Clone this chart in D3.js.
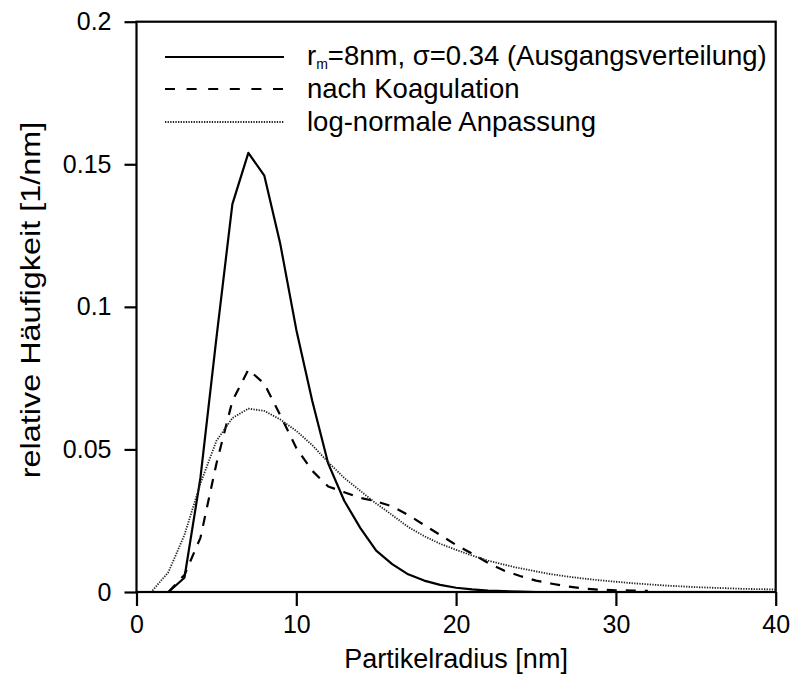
<!DOCTYPE html>
<html>
<head>
<meta charset="utf-8">
<script src="https://cdn.jsdelivr.net/npm/d3@7"></script>
<style>
  html, body { margin: 0; padding: 0; background: #fff; }
  svg { display: block; font-family: "Liberation Sans", Arial, sans-serif; }
</style>
</head>
<body>
<svg id="chart" width="793" height="676"></svg>
<script>
// Particle radius grid [nm]
const radius = d3.range(1, 41);

// Initial size distribution (r_m = 8 nm, sigma = 0.34)
const initial = [
  0, 0, 0.005, 0.040, 0.089, 0.136, 0.154, 0.146, 0.122, 0.092,
  0.067, 0.045, 0.032, 0.0225, 0.0145, 0.0098, 0.0062, 0.0040, 0.0025, 0.0015,
  0.0009, 0.0005, 0.0003, 0.0001, 0, 0, 0, 0, 0, 0,
  0, 0, 0, 0, 0, 0, 0, 0, 0, 0
];

// Distribution after coagulation
const coagulated = [
  null, 0, 0.006, 0.019, 0.045, 0.067, 0.078, 0.073, 0.062, 0.0505,
  0.0425, 0.037, 0.035, 0.033, 0.0318, 0.030, 0.027, 0.0235, 0.020, 0.0165,
  0.0135, 0.0102, 0.0075, 0.0056, 0.0040, 0.0029, 0.0019, 0.0012, 0.0008, 0.0006,
  0.0005, 0.0004, null, null, null, null, null, null, null, null
];

// Log-normal fit of the coagulated distribution
const lognormalFit = [
  0.0005, 0.007, 0.020, 0.038, 0.053, 0.061, 0.0643, 0.0635, 0.0605, 0.0565,
  0.0515, 0.0455, 0.040, 0.0355, 0.031, 0.027, 0.0228, 0.0196, 0.0169, 0.0148,
  0.0128, 0.0110, 0.0096, 0.0083, 0.0072, 0.0062, 0.0054, 0.0047, 0.0041, 0.0036,
  0.0031, 0.0027, 0.0023, 0.0020, 0.0017, 0.0015, 0.0013, 0.0011, 0.0010, 0.0009
];

const xTicks = [0, 10, 20, 30, 40];
const yTicks = [0, 0.05, 0.1, 0.15, 0.2];
const yTickLabels = ["0", "0.05", "0.1", "0.15", "0.2"];

const seriesNames = [
  "r_m=8nm, σ=0.34 (Ausgangsverteilung)",
  "nach Koagulation",
  "log-normale Anpassung"
];

const svg = d3.select("#chart");
const m = { left: 136.5, right: 775.7, top: 21.7, bottom: 592 };

const x = d3.scaleLinear().domain([0, 40]).range([m.left, m.right]);
const y = d3.scaleLinear().domain([0, 0.2]).range([m.bottom, m.top]);

const styles = [
  { width: 2.2, dash: null, legendDash: null, color: "#000" },
  { width: 2.2, dash: "10,9", legendDash: "10,11.6", color: "#000" },
  { width: 1.8, dash: "1.3,1.3", legendDash: "1.3,1.3", color: "#222" }
];

// Plot frame
svg.append("rect")
  .attr("x", m.left).attr("y", m.top)
  .attr("width", m.right - m.left).attr("height", m.bottom - m.top)
  .attr("fill", "none").attr("stroke", "#000").attr("stroke-width", 2.2);

// Axes
const xAxis = d3.axisBottom(x).tickValues(xTicks).tickSize(14).tickPadding(9)
  .tickFormat(d3.format("d"));
const gx = svg.append("g").attr("transform", `translate(0,${m.bottom})`).call(xAxis);

const yAxis = d3.axisLeft(y).tickValues(yTicks).tickSize(12).tickPadding(13)
  .tickFormat((d, i) => yTickLabels[i]);
const gy = svg.append("g").attr("transform", `translate(${m.left},0)`).call(yAxis);

[gx, gy].forEach(g => {
  g.select(".domain").remove();
  g.selectAll(".tick line").attr("stroke", "#000").attr("stroke-width", 2.2);
  g.selectAll(".tick text").attr("fill", "#000").style("font-size", "25px")
    .style("font-family", "'Liberation Sans', Arial, sans-serif");
});

// Axis titles
svg.append("text")
  .attr("x", (m.left + m.right) / 2).attr("y", 668)
  .attr("text-anchor", "middle").style("font-size", "27px")
  .text("Partikelradius [nm]");

svg.append("text")
  .attr("transform", `translate(40,300) rotate(-90) scale(1.2,1)`)
  .attr("text-anchor", "middle").style("font-size", "27px")
  .text("relative Häufigkeit [1/nm]");

// Curves
const datasets = [initial, coagulated, lognormalFit];
const line = d3.line()
  .defined(d => d[1] !== null)
  .x(d => x(d[0])).y(d => y(d[1]));

const plot = svg.append("g");
datasets.forEach((vals, i) => {
  const pts = radius.map((r, k) => [r, vals[k]]);
  plot.append("path")
    .datum(pts)
    .attr("d", line)
    .attr("fill", "none")
    .attr("stroke", styles[i].color)
    .attr("stroke-width", styles[i].width)
    .attr("stroke-dasharray", styles[i].dash)
    .attr("stroke-linejoin", "round");
});

// Legend
const legendY = [57, 89, 122];
const legend = svg.append("g");
seriesNames.forEach((name, i) => {
  legend.append("line")
    .attr("x1", 165).attr("x2", 284)
    .attr("y1", legendY[i]).attr("y2", legendY[i])
    .attr("stroke", styles[i].color)
    .attr("stroke-width", styles[i].width)
    .attr("stroke-dasharray", styles[i].legendDash);
  const t = legend.append("text")
    .attr("x", 307).attr("y", legendY[i] + (i === 0 ? 8 : 9))
    .style("font-size", "27.5px");
  if (i === 0) {
    t.append("tspan").text("r");
    t.append("tspan").attr("dy", 4).style("font-size", "14px").text("m");
    t.append("tspan").attr("dy", -4).text("=8nm, σ=0.34 (Ausgangsverteilung)");
  } else {
    t.text(name);
  }
});
</script>
</body>
</html>
